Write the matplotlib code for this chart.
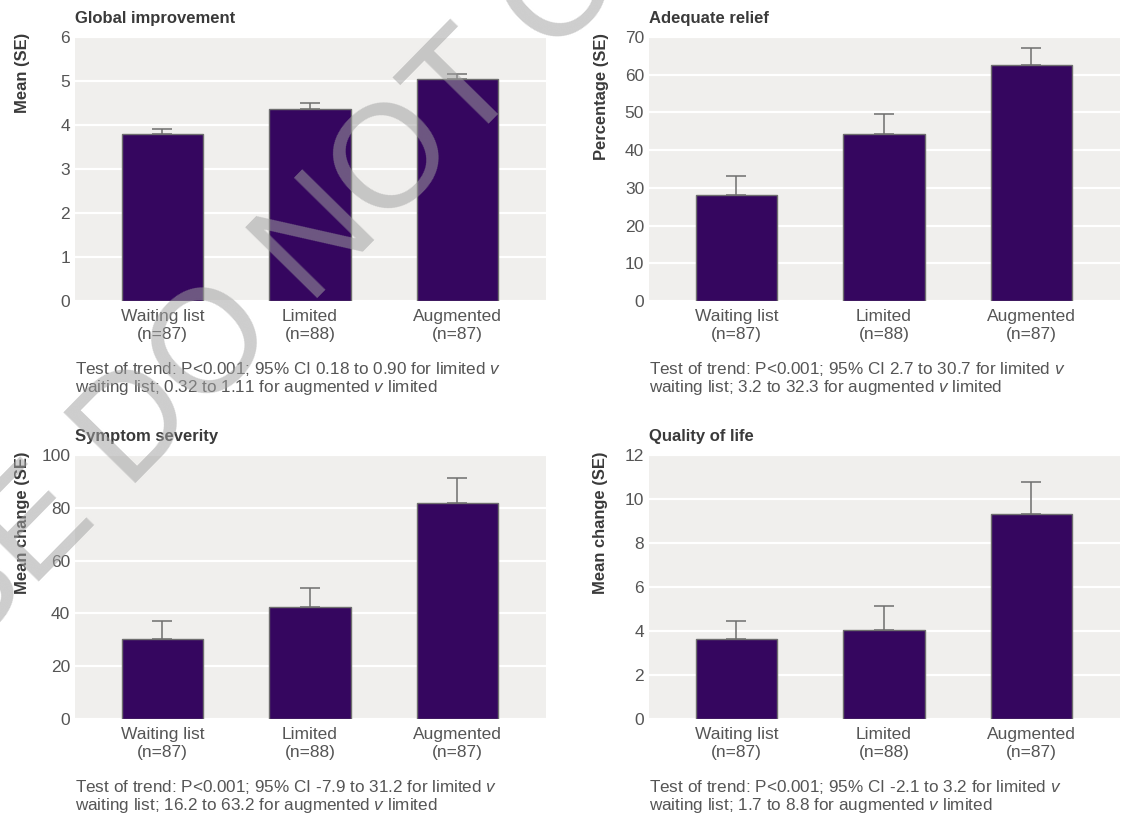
import matplotlib
matplotlib.use("Agg")
import matplotlib.pyplot as plt

plt.rcParams["font.family"] = ["Liberation Sans", "DejaVu Sans"]
plt.rcParams["mathtext.fontset"] = "custom"
plt.rcParams["mathtext.rm"] = "Liberation Sans"
plt.rcParams["mathtext.it"] = "Liberation Sans:italic"

groups = ["Waiting list\n(n=87)", "Limited\n(n=88)", "Augmented\n(n=87)"]

titles = ["Global improvement", "Adequate relief", "Symptom severity", "Quality of life"]
ylabels = ["Mean (SE)", "Percentage (SE)", "Mean change (SE)", "Mean change (SE)"]

global_mean = [3.80, 4.36, 5.05]
global_se = [0.11, 0.15, 0.12]
relief_pct = [28.2, 44.4, 62.6]
relief_se = [4.9, 5.1, 4.6]
severity_mean = [30.2, 42.4, 81.9]
severity_se = [7.0, 7.1, 9.4]
qol_mean = [3.62, 4.06, 9.30]
qol_se = [0.85, 1.08, 1.47]

yticks = [range(0, 7, 1), range(0, 71, 10), range(0, 101, 20), range(0, 13, 2)]

notes = [
    "Test of trend: P<0.001; 95% CI 0.18 to 0.90 for limited $v$\nwaiting list; 0.32 to 1.11 for augmented $v$ limited",
    "Test of trend: P<0.001; 95% CI 2.7 to 30.7 for limited $v$\nwaiting list; 3.2 to 32.3 for augmented $v$ limited",
    "Test of trend: P<0.001; 95% CI -7.9 to 31.2 for limited $v$\nwaiting list; 16.2 to 63.2 for augmented $v$ limited",
    "Test of trend: P<0.001; 95% CI -2.1 to 3.2 for limited $v$\nwaiting list; 1.7 to 8.8 for augmented $v$ limited",
]

means = [global_mean, relief_pct, severity_mean, qol_mean]
ses = [global_se, relief_se, severity_se, qol_se]

bar_col = "#35065f"
edge_col = "#6e6e6e"
text_col = "#555555"
head_col = "#3a3a3a"
panel_bg = "#f0efed"

W, H = 1124, 815
fig = plt.figure(figsize=(W / 100, H / 100), dpi=100)

# panel boxes in pixels: left, top, width, height
boxes = [(75, 37, 471, 264), (649, 37, 471, 264),
         (75, 455, 471, 264), (649, 455, 471, 264)]
label_x = [-0.112, -0.1, -0.112, -0.104]

for i, (l, t, w, h) in enumerate(boxes):
    ax = fig.add_axes([l / W, 1 - (t + h) / H, w / W, h / H])
    ax.set_facecolor(panel_bg)
    x = list(range(len(groups)))
    ax.errorbar(x, means[i], yerr=[[0] * 3, ses[i]], fmt="none",
                ecolor=edge_col, elinewidth=1.1, capsize=7, capthick=1.1, zorder=2)
    ax.bar(x, means[i], width=0.55, color=bar_col, edgecolor=edge_col,
           linewidth=1.0, zorder=3)
    ax.set_xlim(-0.593, 2.6)
    yt = list(yticks[i])
    ax.set_ylim(yt[0], yt[-1])
    ax.set_yticks(yt)
    ax.set_xticks(x)
    ax.set_xticklabels(groups, linespacing=1.3)
    ax.grid(axis="y", color="white", linewidth=1.6)
    ax.set_axisbelow(True)
    for s in ax.spines.values():
        s.set_visible(False)
    ax.tick_params(axis="both", length=0, labelsize=12.5, labelcolor=text_col)
    ax.tick_params(axis="y", pad=3.5)
    ax.tick_params(axis="x", pad=5.5)
    ax.set_title(titles[i], loc="left", fontsize=12, fontweight="bold",
                 color=head_col, pad=10)
    ax.text(label_x[i], 1.015, ylabels[i], transform=ax.transAxes, rotation=90,
            ha="center", va="top", fontsize=11.9, fontweight="bold", color=head_col)
    ax.text(0, -0.225, notes[i], transform=ax.transAxes, ha="left", va="top",
            fontsize=12.3, color=text_col, linespacing=1.0)

fig.text(244 / W, 1 - 318 / H, "PLEASE DO NOT COPY", rotation=45.5,
         rotation_mode="anchor", ha="center", va="center", fontsize=105,
         color="#a1a1a1", alpha=0.53, zorder=10)

fig.savefig("out.png", dpi=100)
